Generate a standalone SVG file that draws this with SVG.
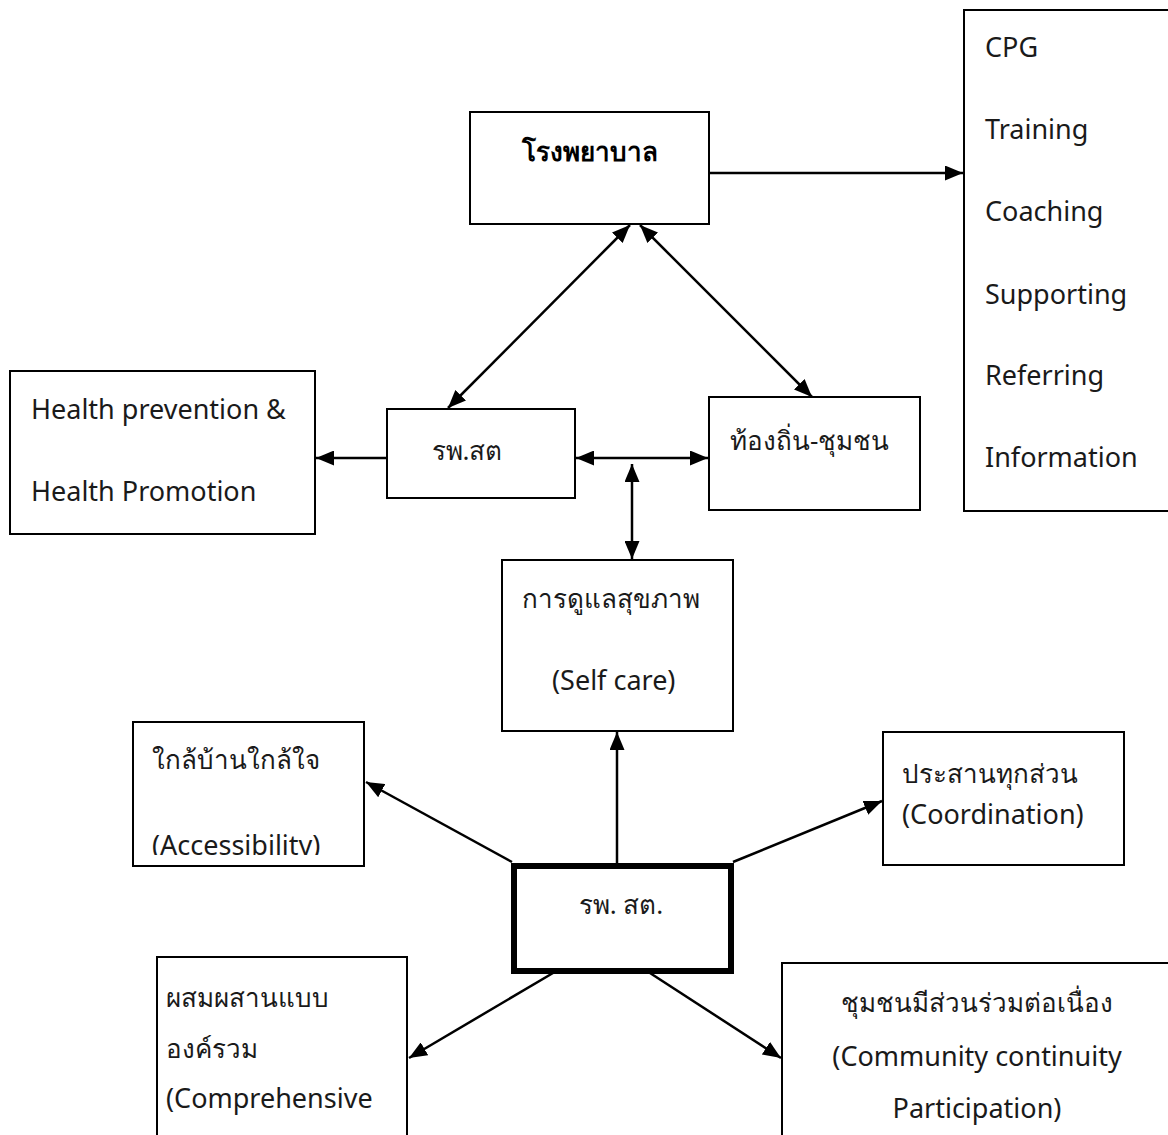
<svg xmlns="http://www.w3.org/2000/svg" width="1168" height="1135" viewBox="0 0 1168 1135">
<style>
  .box{fill:#fff;stroke:#000;stroke-width:2}
  .thick{fill:#fff;stroke:#000;stroke-width:6}
  .t{font-family:"Noto Sans","Open Sans",sans-serif;font-size:27px;fill:#1a1a1a}
  .th{font-size:26px}
  .b{font-weight:bold;fill:#000}
  .c{text-anchor:middle}
  .ln{stroke:#000;stroke-width:2.5;fill:none}
</style>
<defs>
  <marker id="ah" markerUnits="userSpaceOnUse" markerWidth="19" markerHeight="15" refX="18" refY="7.5" orient="auto-start-reverse">
    <path d="M0,0 L18,7.5 L0,15 z" fill="#000"/>
  </marker>
  <clipPath id="accClip"><rect x="134" y="723" width="229" height="132"/></clipPath>
</defs>
<rect width="1168" height="1135" fill="#fff"/>

<g id="connectors">
  <line class="ln" x1="709" y1="173" x2="963" y2="173" marker-end="url(#ah)"/>
  <line class="ln" x1="630" y1="225" x2="448" y2="408" marker-start="url(#ah)" marker-end="url(#ah)"/>
  <line class="ln" x1="640" y1="225" x2="812" y2="397" marker-start="url(#ah)" marker-end="url(#ah)"/>
  <line class="ln" x1="387" y1="458" x2="316" y2="458" marker-end="url(#ah)"/>
  <line class="ln" x1="576" y1="458" x2="708" y2="458" marker-start="url(#ah)" marker-end="url(#ah)"/>
  <line class="ln" x1="632" y1="464" x2="632" y2="559" marker-start="url(#ah)" marker-end="url(#ah)"/>
  <line class="ln" x1="617" y1="863" x2="617" y2="732" marker-end="url(#ah)"/>
  <line class="ln" x1="512" y1="862" x2="366" y2="782" marker-end="url(#ah)"/>
  <line class="ln" x1="733" y1="862" x2="882" y2="801" marker-end="url(#ah)"/>
  <line class="ln" x1="553" y1="973" x2="409" y2="1058" marker-end="url(#ah)"/>
  <line class="ln" x1="650" y1="973" x2="781" y2="1058" marker-end="url(#ah)"/>
</g>

<g id="hospital">
  <rect class="box" x="470" y="112" width="239" height="112"/>
  <text class="t th b c" x="590" y="161">โรงพยาบาล</text>
</g>

<g id="support-list">
  <rect class="box" x="964" y="10" width="220" height="501"/>
  <text class="t" x="985" y="57">CPG</text>
  <text class="t" x="985" y="139">Training</text>
  <text class="t" x="985" y="221">Coaching</text>
  <text class="t" x="985" y="304">Supporting</text>
  <text class="t" x="985" y="385">Referring</text>
  <text class="t" x="985" y="467">Information</text>
</g>

<g id="health-prevention">
  <rect class="box" x="10" y="371" width="305" height="163"/>
  <text class="t" x="31" y="419">Health prevention &amp;</text>
  <text class="t" x="31" y="501">Health Promotion</text>
</g>

<g id="rpsst-top">
  <rect class="box" x="387" y="409" width="188" height="89"/>
  <text class="t th c" x="467" y="460">รพ.สต</text>
</g>

<g id="local-community">
  <rect class="box" x="709" y="397" width="211" height="113"/>
  <text class="t th" x="730" y="450">ท้องถิ่น-ชุมชน</text>
</g>

<g id="self-care">
  <rect class="box" x="502" y="560" width="231" height="171"/>
  <text class="t th" x="522" y="608">การดูแลสุขภาพ</text>
  <text class="t" x="552" y="690">(Self care)</text>
</g>

<g id="accessibility">
  <rect class="box" x="133" y="722" width="231" height="144"/>
  <text class="t th" x="152" y="769">ใกล้บ้านใกล้ใจ</text>
  <text class="t" x="152" y="855" clip-path="url(#accClip)">(Accessibility)</text>
</g>

<g id="coordination">
  <rect class="box" x="883" y="732" width="241" height="133"/>
  <text class="t th" x="902" y="783">ประสานทุกส่วน</text>
  <text class="t" x="902" y="824">(Coordination)</text>
</g>

<g id="rpsst-center">
  <rect class="thick" x="514" y="866" width="217" height="105"/>
  <text class="t th c" x="621" y="914">รพ. สต.</text>
</g>

<g id="comprehensive">
  <rect class="box" x="157" y="957" width="250" height="190"/>
  <text class="t th" x="166" y="1007">ผสมผสานแบบ</text>
  <text class="t th" x="166" y="1058">องค์รวม</text>
  <text class="t" x="166" y="1108">(Comprehensive</text>
</g>

<g id="community-participation">
  <rect class="box" x="782" y="963" width="420" height="190"/>
  <text class="t th c" x="977" y="1012">ชุมชนมีส่วนร่วมต่อเนื่อง</text>
  <text class="t c" x="977" y="1066">(Community continuity</text>
  <text class="t c" x="977" y="1118">Participation)</text>
</g>
</svg>
